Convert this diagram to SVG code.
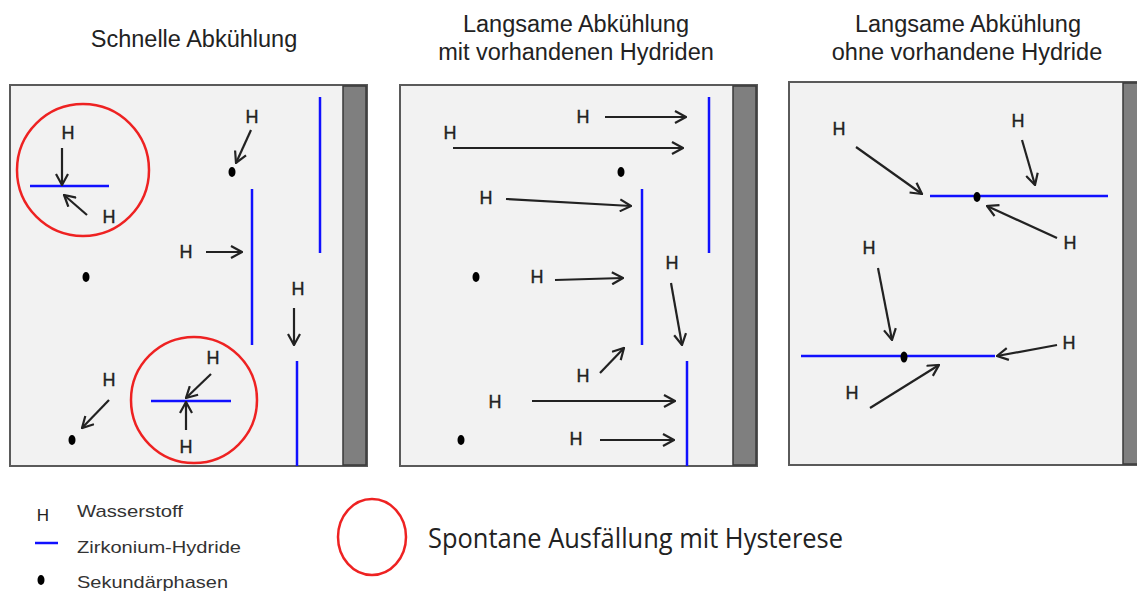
<svg xmlns="http://www.w3.org/2000/svg" width="1137" height="594" viewBox="0 0 1137 594">
<style>
.panel{fill:#f2f2f2;stroke:#5a5a5a;stroke-width:2}
.bar{fill:#7f7f7f;stroke:#3a3a3a;stroke-width:1.5}
.hyd{stroke:#1010ff;stroke-width:2.5;fill:none}
.arr{stroke:#222;stroke-width:2.2;fill:none;marker-end:url(#ah)}
.ring{fill:none;stroke:#ee2222;stroke-width:2.5}
.h{font-family:"Liberation Sans",Arial,sans-serif;font-size:18px;fill:#222;text-anchor:middle;stroke:#222;stroke-width:0.4}
.title{font-family:"Liberation Sans",Arial,sans-serif;font-size:23.5px;fill:#222;text-anchor:middle}
.leg{font-family:"Liberation Sans",Arial,sans-serif;font-size:17px;fill:#333}
.big{font-family:"Open Sans","Noto Sans",sans-serif;font-size:27px;fill:#222}
</style>
<defs>
<marker id="ah" viewBox="0 0 14 14" refX="13" refY="7" markerWidth="14" markerHeight="14" markerUnits="userSpaceOnUse" orient="auto">
<path d="M2,1 L13,7 L2,13" fill="none" stroke="#222" stroke-width="2.2"/>
</marker>
</defs>
<rect width="1137" height="594" fill="#fff"/>

<g id="titles">
<text class="title" x="194" y="47">Schnelle Abkühlung</text>
<text class="title" x="576" y="32">Langsame Abkühlung</text>
<text class="title" x="576" y="60">mit vorhandenen Hydriden</text>
<text class="title" x="968" y="32">Langsame Abkühlung</text>
<text class="title" x="967" y="60">ohne vorhandene Hydride</text>
</g>

<g id="panel1">
<rect class="panel" x="10" y="85" width="357" height="381"/>
<rect class="bar" x="343" y="86" width="23" height="379"/>
<circle class="ring" cx="83" cy="170" r="66"/>
<line class="hyd" x1="30" y1="186" x2="109" y2="186"/>
<text class="h" x="68" y="139">H</text>
<text class="h" x="109" y="223">H</text>
<text class="h" x="252" y="123">H</text>
<ellipse cx="232" cy="172" rx="3.5" ry="5" fill="#000"/>
<line class="hyd" x1="320" y1="97" x2="320" y2="253"/>
<line class="hyd" x1="252" y1="189" x2="252" y2="345"/>
<text class="h" x="186" y="258">H</text>
<ellipse cx="86" cy="277" rx="3.5" ry="5" fill="#000"/>
<text class="h" x="298" y="295">H</text>
<line class="hyd" x1="297" y1="361" x2="297" y2="466"/>
<circle class="ring" cx="194" cy="400" r="63"/>
<line class="hyd" x1="151" y1="401" x2="231" y2="401"/>
<text class="h" x="213" y="364">H</text>
<text class="h" x="186" y="453">H</text>
<text class="h" x="109" y="386">H</text>
<ellipse cx="72" cy="440" rx="3.5" ry="5" fill="#000"/>
</g>

<g id="panel2">
<rect class="panel" x="400" y="85" width="357" height="381"/>
<rect class="bar" x="733" y="86" width="23" height="379"/>
<line class="hyd" x1="709" y1="97" x2="709" y2="253"/>
<line class="hyd" x1="642" y1="189" x2="642" y2="345"/>
<line class="hyd" x1="687" y1="361" x2="687" y2="466"/>
<text class="h" x="583" y="123">H</text>
<text class="h" x="450" y="139">H</text>
<ellipse cx="621" cy="172" rx="3.5" ry="5" fill="#000"/>
<text class="h" x="486" y="204">H</text>
<ellipse cx="476" cy="277" rx="3.5" ry="5" fill="#000"/>
<text class="h" x="537" y="283">H</text>
<text class="h" x="672" y="269">H</text>
<text class="h" x="583" y="382">H</text>
<text class="h" x="495" y="408">H</text>
<ellipse cx="461" cy="440" rx="3.5" ry="5" fill="#000"/>
<text class="h" x="576" y="445">H</text>
</g>

<g id="panel3">
<rect class="panel" x="789" y="82" width="350" height="383"/>
<rect class="bar" x="1123" y="83" width="16" height="381"/>
<line class="hyd" x1="930" y1="196" x2="1108" y2="196"/>
<ellipse cx="977" cy="197" rx="3.5" ry="5" fill="#000"/>
<text class="h" x="839" y="135">H</text>
<text class="h" x="1018" y="127">H</text>
<text class="h" x="1070" y="249">H</text>
<line class="hyd" x1="801" y1="356" x2="995" y2="356"/>
<ellipse cx="904" cy="357" rx="3.5" ry="5.5" fill="#000"/>
<text class="h" x="869" y="254">H</text>
<text class="h" x="1069" y="349">H</text>
<text class="h" x="852" y="399">H</text>
</g>

<g id="connectors">
<line class="arr" x1="62" y1="148" x2="62" y2="185"/>
<line class="arr" x1="87" y1="215" x2="64" y2="195"/>
<line class="arr" x1="251" y1="130" x2="236" y2="163"/>
<line class="arr" x1="206" y1="252" x2="242" y2="252"/>
<line class="arr" x1="294" y1="308" x2="294" y2="345"/>
<line class="arr" x1="211" y1="374" x2="186" y2="398"/>
<line class="arr" x1="186" y1="430" x2="186" y2="402"/>
<line class="arr" x1="109" y1="400" x2="82" y2="428"/>

<line class="arr" x1="605" y1="117" x2="686" y2="117"/>
<line class="arr" x1="453" y1="148" x2="683" y2="148"/>
<line class="arr" x1="506" y1="199" x2="631" y2="206"/>
<line class="arr" x1="555" y1="280" x2="623" y2="278"/>
<line class="arr" x1="671" y1="283" x2="682" y2="345"/>
<line class="arr" x1="600" y1="373" x2="624" y2="348"/>
<line class="arr" x1="532" y1="401" x2="675" y2="401"/>
<line class="arr" x1="600" y1="440" x2="674" y2="440"/>

<line class="arr" x1="856" y1="147" x2="922" y2="194"/>
<line class="arr" x1="1022" y1="140" x2="1035" y2="185"/>
<line class="arr" x1="1057" y1="238" x2="987" y2="206"/>
<line class="arr" x1="878" y1="268" x2="892" y2="340"/>
<line class="arr" x1="1057" y1="345" x2="997" y2="356"/>
<line class="arr" x1="870" y1="408" x2="939" y2="365"/>
</g>

<g id="legend">
<text class="h" x="43" y="521" style="font-size:17px;stroke-width:0">H</text>
<text class="leg" x="77" y="517" textLength="106" lengthAdjust="spacingAndGlyphs">Wasserstoff</text>
<line class="hyd" x1="35" y1="543" x2="58" y2="543"/>
<text class="leg" x="77" y="553" textLength="164" lengthAdjust="spacingAndGlyphs">Zirkonium-Hydride</text>
<ellipse cx="41" cy="580" rx="3.5" ry="5" fill="#000"/>
<text class="leg" x="77" y="588" textLength="151" lengthAdjust="spacingAndGlyphs">Sekundärphasen</text>
<ellipse class="ring" cx="372" cy="537" rx="34" ry="38"/>
<text class="big" x="428" y="548" textLength="415" lengthAdjust="spacingAndGlyphs">Spontane Ausfällung mit Hysterese</text>
</g>
</svg>
